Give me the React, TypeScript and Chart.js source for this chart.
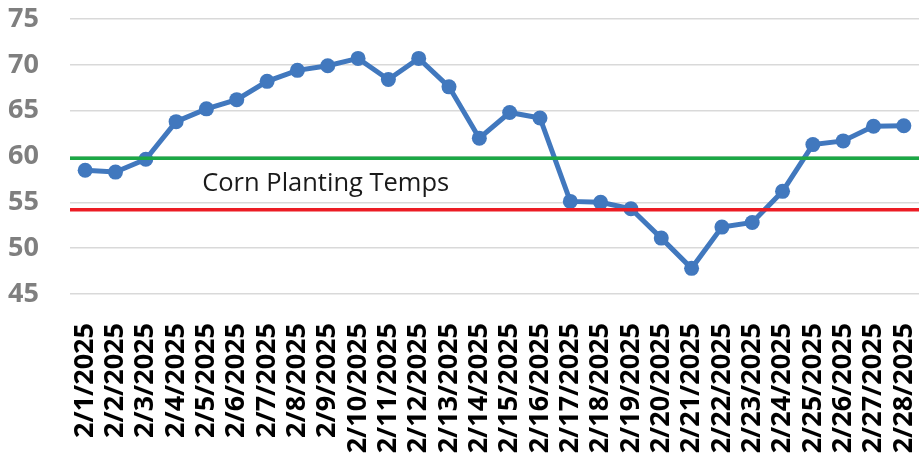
import React, { useEffect, useRef } from "react";
import { Chart, registerables } from "chart.js";

Chart.register(...registerables);

const dates = [
  "2/1/2025", "2/2/2025", "2/3/2025", "2/4/2025", "2/5/2025", "2/6/2025", "2/7/2025",
  "2/8/2025", "2/9/2025", "2/10/2025", "2/11/2025", "2/12/2025", "2/13/2025", "2/14/2025",
  "2/15/2025", "2/16/2025", "2/17/2025", "2/18/2025", "2/19/2025", "2/20/2025", "2/21/2025",
  "2/22/2025", "2/23/2025", "2/24/2025", "2/25/2025", "2/26/2025", "2/27/2025", "2/28/2025",
];

const temps = [
  58.5, 58.3, 59.7, 63.8, 65.2, 66.2, 68.2, 69.4, 69.9, 70.7, 68.4, 70.7, 67.6, 62.0,
  64.8, 64.2, 55.1, 55.0, 54.3, 51.1, 47.8, 52.3, 52.8, 56.2, 61.3, 61.7, 63.3, 63.35,
];

const upperThreshold = [59.8, 59.8];
const lowerThreshold = [54.2, 54.2];
const spanX = [0, 1];

const yTicks = [45, 50, 55, 60, 65, 70, 75];

const bandLabel = "Corn Planting Temps";
const bandLabelAt = { index: 3.86, value: 57.0 };

const labelPlugin = {
  id: "bandLabel",
  afterDatasetsDraw(chart: any) {
    const { ctx, scales } = chart;
    const x = scales.x.getPixelForValue(bandLabelAt.index);
    const y = scales.y.getPixelForValue(bandLabelAt.value);
    ctx.save();
    ctx.font = "25.5px 'Open Sans'";
    ctx.fillStyle = "#1a1a1a";
    ctx.textAlign = "left";
    ctx.textBaseline = "middle";
    ctx.fillText(bandLabel, x, y);
    ctx.restore();
  },
};

export default function App() {
  const ref = useRef<HTMLCanvasElement | null>(null);

  useEffect(() => {
    if (!ref.current) return;
    const chart = new Chart(ref.current, {
      type: "line",
      data: {
        labels: dates,
        datasets: [
          {
            label: "Upper",
            data: spanX.map((x, i) => ({ x, y: upperThreshold[i] })),
            xAxisID: "x2",
            borderColor: "#1BA845",
            borderWidth: 3.5,
            pointRadius: 0,
            fill: false,
          },
          {
            label: "Lower",
            data: spanX.map((x, i) => ({ x, y: lowerThreshold[i] })),
            xAxisID: "x2",
            borderColor: "#EC1C24",
            borderWidth: 3.5,
            pointRadius: 0,
            fill: false,
          },
          {
            label: "Temp",
            data: temps,
            xAxisID: "x",
            borderColor: "#4178BE",
            backgroundColor: "#4178BE",
            borderWidth: 5,
            pointRadius: 7.5,
            pointHoverRadius: 7.5,
            pointBorderWidth: 0,
            tension: 0,
            fill: false,
          },
        ],
      },
      options: {
        animation: false,
        responsive: true,
        maintainAspectRatio: false,
        layout: { autoPadding: false, padding: { top: 19, right: 0, left: 0, bottom: 0 } },
        plugins: {
          legend: { display: false },
          tooltip: { enabled: false },
        },
        scales: {
          x: {
            type: "category",
            offset: true,
            grid: { display: false },
            border: { display: false },
            afterFit(scale: any) {
              scale.height = 165;
              scale.paddingLeft = 0;
              scale.paddingRight = 0;
            },
            ticks: {
              autoSkip: false,
              minRotation: 90,
              maxRotation: 90,
              padding: 21,
              color: "#000000",
              font: { family: "'Open Sans'", size: 27, weight: "bold" },
            },
          },
          x2: {
            type: "linear",
            min: 0,
            max: 1,
            display: false,
          },
          y: {
            min: 45,
            max: 75,
            afterBuildTicks(scale: any) {
              scale.ticks = yTicks.map((v) => ({ value: v }));
            },
            afterFit(scale: any) {
              scale.width = 70;
              scale.paddingTop = 0;
              scale.paddingBottom = 0;
            },
            grid: { color: "#D9D9D9", lineWidth: 1.5, drawTicks: false },
            border: { display: false },
            ticks: {
              padding: 31,
              color: "#7F7F7F",
              font: { family: "'Open Sans'", size: 27, weight: "bold" },
            },
          },
        },
      },
      plugins: [labelPlugin],
    });
    return () => chart.destroy();
  }, []);

  return (
    <div style={{ position: "fixed", left: 0, top: 0, width: 919, height: 459, background: "#fff" }}>
      <canvas ref={ref} />
    </div>
  );
}
